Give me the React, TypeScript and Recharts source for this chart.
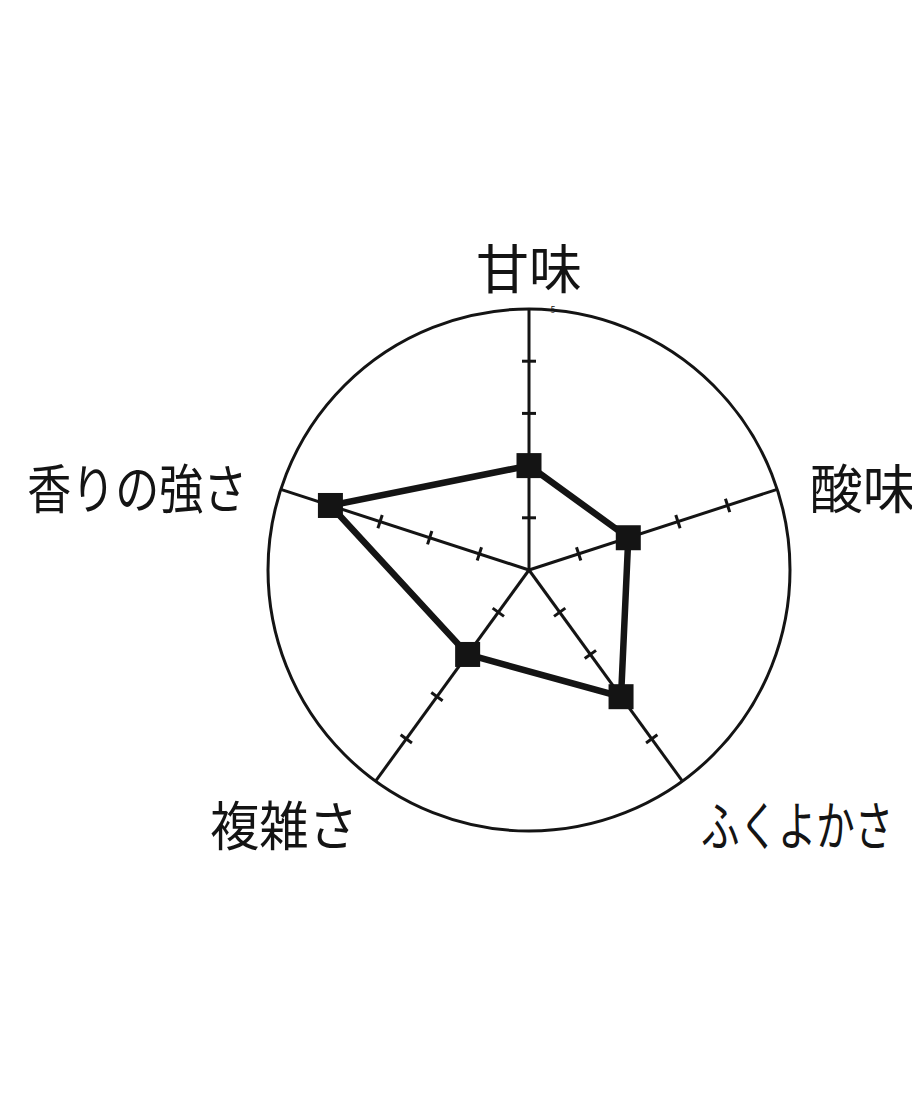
import React from 'react';
import { RadarChart, Radar, PolarGrid, PolarAngleAxis, PolarRadiusAxis } from 'recharts';

const categories = ['甘味', '酸味', 'ふくよかさ', '複雑さ', '香りの強さ'];
const values = [2, 2, 3, 2, 4];
const radiusTicks = [0, 1, 2, 3, 4, 5];
const maxValue = 5;

const data = categories.map((c, i) => ({ name: c, value: values[i] }));

// layout
const CX = 521;
const CY = 562;
const R = 261;
const INK = '#141414';
const FONT = "'Noto Sans CJK JP', 'Noto Sans', sans-serif";
const LABEL_SIZE = 53;
const labelLengths: Record<string, number> = { 'ふくよかさ': 192, '複雑さ': 148, '香りの強さ': 220 };
const axisAngles = categories.map((_, i) => 90 - (i * 360) / categories.length);

const AngleTick = (props: any) => {
  const { x, y, payload } = props;
  const a = (payload.coordinate * Math.PI) / 180;
  const cos = Math.cos(a);
  const sin = Math.sin(a);
  let anchor: 'start' | 'middle' | 'end' = 'middle';
  let dx = 0;
  if (cos > 0.1) {
    anchor = 'start';
    dx = cos > 0.9 ? 25 : 14;
  } else if (cos < -0.1) {
    anchor = 'end';
    dx = cos < -0.9 ? -26 : -13;
  }
  const dy = sin > 0.9 ? -35 : sin < -0.5 ? 35 : -1;
  const len = labelLengths[payload.value];
  return (
    <text
      x={x + dx}
      y={y + dy}
      textAnchor={anchor}
      dominantBaseline="central"
      fontSize={LABEL_SIZE}
      fontFamily={FONT}
      fill={INK}
      textLength={len}
      lengthAdjust={len ? 'spacingAndGlyphs' : undefined}
    >
      {payload.value}
    </text>
  );
};

const RadiusTick = (props: any) => {
  const { x, y, payload } = props;
  const v = payload.value;
  if (v === 0) return <g />;
  const r = Math.hypot(x - CX, y - CY);
  if (v === maxValue) {
    return (
      <text x={x + 24} y={y + 4} fontSize={9} fontFamily={FONT} fill={INK} textAnchor="middle">
        {v}
      </text>
    );
  }
  const h = 7;
  return (
    <g>
      {axisAngles.map((ang, i) => {
        const rad = (ang * Math.PI) / 180;
        const px = CX + r * Math.cos(rad);
        const py = CY - r * Math.sin(rad);
        const ox = Math.sin(rad) * h;
        const oy = Math.cos(rad) * h;
        return (
          <line key={i} x1={px - ox} y1={py - oy} x2={px + ox} y2={py + oy} stroke={INK} strokeWidth={3} />
        );
      })}
    </g>
  );
};

const SquareDot = (props: any) => {
  const { cx, cy } = props;
  const s = 25;
  return <rect x={cx - s / 2} y={cy - s / 2} width={s} height={s} fill={INK} />;
};

export default function App() {
  return (
    <div style={{ width: 912, height: 1090, background: '#fff' }}>
      <RadarChart
        width={912}
        height={1090}
        data={data}
        cx={CX}
        cy={CY}
        outerRadius={R}
        startAngle={90}
        endAngle={-270}
      >
        <PolarGrid gridType="circle" polarRadius={[R]} stroke={INK} strokeWidth={3} />
        <PolarAngleAxis dataKey="name" tick={AngleTick} tickLine={false} axisLine={false} />
        <PolarRadiusAxis
          angle={axisAngles[0]}
          domain={[0, maxValue]}
          ticks={radiusTicks}
          tickCount={radiusTicks.length}
          axisLine={false}
          tick={RadiusTick}
        />
        <Radar
          dataKey="value"
          stroke={INK}
          strokeWidth={6.5}
          fill="none"
          fillOpacity={0}
          dot={SquareDot}
          isAnimationActive={false}
        />
      </RadarChart>
    </div>
  );
}
